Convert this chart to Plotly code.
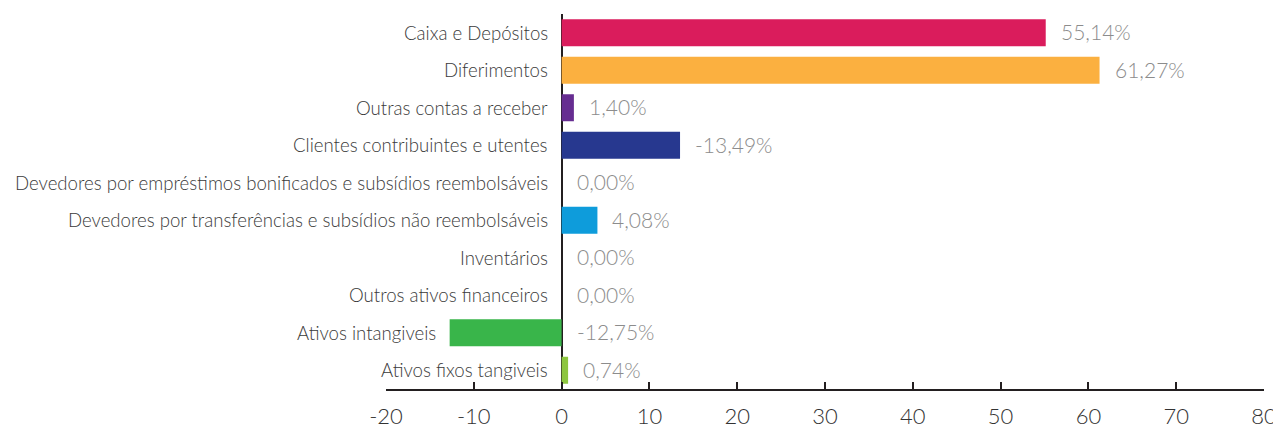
import plotly.graph_objects as go

categories = [
    "Caixa e Depósitos",
    "Diferimentos",
    "Outras contas a receber",
    "Clientes contribuintes e utentes",
    "Devedores por empréstimos bonificados e subsídios reembolsáveis",
    "Devedores por transferências e subsídios não reembolsáveis",
    "Inventários",
    "Outros ativos financeiros",
    "Ativos intangiveis",
    "Ativos fixos tangiveis",
]
values = [55.14, 61.27, 1.40, 13.49, 0.0, 4.08, 0.0, 0.0, -12.75, 0.74]
value_labels = ["55,14%", "61,27%", "1,40%", "-13,49%", "0,00%", "4,08%",
                "0,00%", "0,00%", "-12,75%", "0,74%"]
colors = ["#DA1C5C", "#FBB040", "#662D91", "#27388F", "#27388F", "#0E9CDB",
          "#0E9CDB", "#0E9CDB", "#39B54A", "#8DC63F"]
x_ticks = [-20, -10, 0, 10, 20, 30, 40, 50, 60, 70, 80]

FONT = "Lato"

fig = go.Figure(go.Bar(
    y=categories, x=values, orientation="h",
    marker=dict(color=colors, line=dict(width=0)),
    hoverinfo="skip",
))

annotations = []
for c, v, lab in zip(categories, values, value_labels):
    annotations.append(dict(
        x=max(v, 0), y=c, xref="x", yref="y", text=lab, showarrow=False,
        xanchor="left", yanchor="middle", xshift=13, yshift=1,
        font=dict(family=FONT, size=21, color="#8C8C8C", weight=300),
    ))
    annotations.append(dict(
        x=min(v, 0), y=c, xref="x", yref="y", text=c, showarrow=False,
        xanchor="right", yanchor="middle", xshift=-12, yshift=0,
        font=dict(family=FONT, size=18.6, color="#3A3A3A", weight=300),
    ))

# page body adds an 8px offset; figure is sized to fill the rest of the window
fig.update_layout(
    width=1273, height=424,
    margin=dict(l=378, r=17, t=6, b=43, autoexpand=False),
    paper_bgcolor="white", plot_bgcolor="white",
    bargap=0.28,
    showlegend=False,
    annotations=annotations,
    xaxis=dict(
        range=[-20, 80], tickvals=x_ticks, ticktext=[str(t) for t in x_ticks],
        showgrid=False, zeroline=True, zerolinecolor="#231F20", zerolinewidth=2,
        showline=True, linecolor="#231F20", linewidth=2,
        ticks="inside", ticklen=7, tickwidth=2, tickcolor="#231F20",
        tickfont=dict(family=FONT, size=22, color="#333333", weight=300),
        ticklabelstandoff=7, automargin=False, fixedrange=True,
    ),
    yaxis=dict(
        autorange="reversed", showticklabels=False, showgrid=False,
        zeroline=False, showline=False, ticks="", fixedrange=True,
        automargin=False,
    ),
)

fig.write_html("out.html")
